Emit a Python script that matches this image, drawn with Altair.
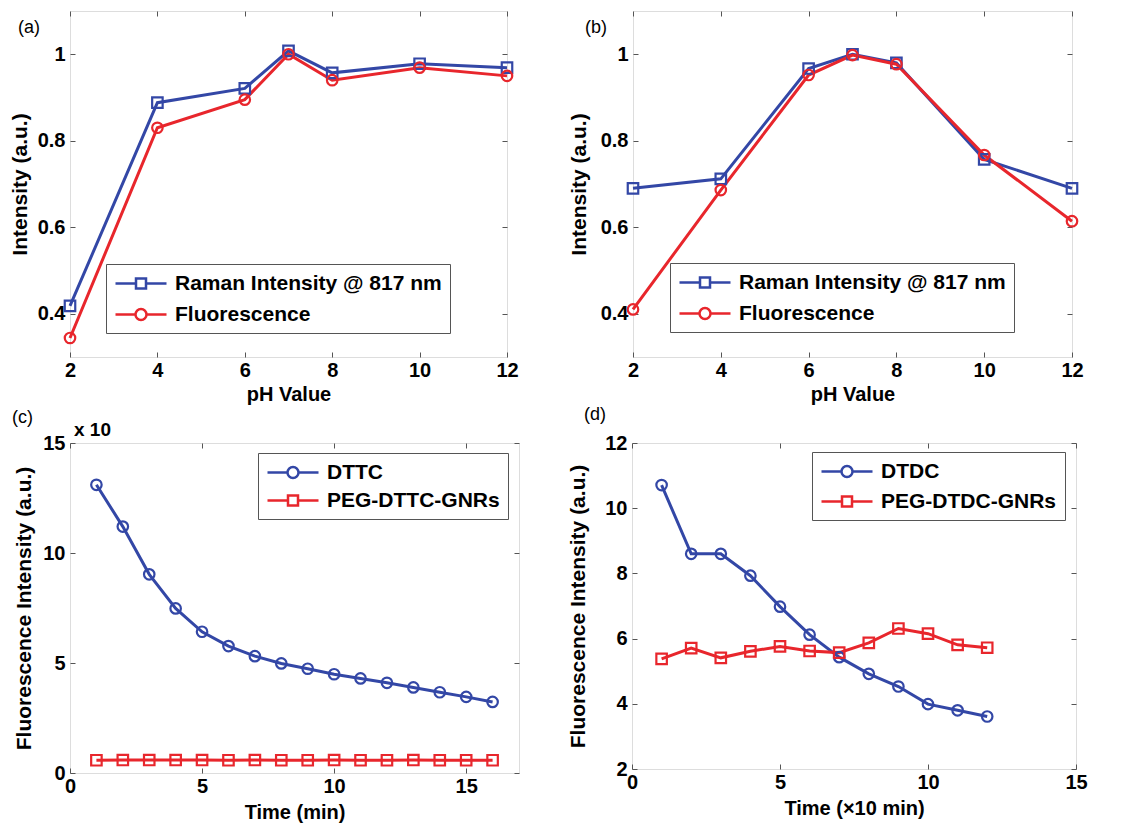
import altair as alt
import pandas as pd

BLUE = "#3347a6"
RED = "#e8262c"
FRAME = "#555555"
FONT = "Liberation Sans"

# ---------------- data ----------------
ph = [2, 4, 6, 7, 8, 10, 12]
a_raman = [0.418, 0.888, 0.921, 1.008, 0.957, 0.978, 0.969]
a_fluor = [0.344, 0.830, 0.895, 1.000, 0.940, 0.969, 0.950]
b_raman = [0.690, 0.712, 0.967, 1.000, 0.980, 0.757, 0.690]
b_fluor = [0.410, 0.686, 0.952, 0.998, 0.977, 0.767, 0.614]

c_time = [1, 2, 3, 4, 5, 6, 7, 8, 9, 10, 11, 12, 13, 14, 15, 16]
c_dttc = [13.10, 11.20, 9.03, 7.48, 6.42, 5.77, 5.31, 4.98, 4.74, 4.49,
          4.30, 4.10, 3.89, 3.67, 3.46, 3.23]
c_peg = [0.58, 0.59, 0.59, 0.59, 0.59, 0.58, 0.59, 0.58, 0.58, 0.59,
         0.58, 0.58, 0.59, 0.58, 0.58, 0.58]

d_time = [1, 2, 3, 4, 5, 6, 7, 8, 9, 10, 11, 12]
d_dtdc = [10.71, 8.60, 8.60, 7.93, 6.98, 6.12, 5.43, 4.92, 4.53, 3.99, 3.80, 3.61]
d_peg = [5.38, 5.71, 5.41, 5.61, 5.76, 5.62, 5.57, 5.87, 6.31, 6.15, 5.81, 5.72]

S_RAMAN = "Raman Intensity @ 817 nm"
S_FLUOR = "Fluorescence"

# legend symbols: a line sample with a marker in its middle
LEG_SQUARE = "M-1,0H1.05M2.05,0H4.1M1.05,-0.5H2.05V0.5H1.05Z"
LEG_CIRCLE = "M-1,0H1.0M2.1,0H4.1M1.0,0A0.55,0.55,0,1,1,2.1,0A0.55,0.55,0,1,1,1.0,0"


def frame(xs, ys, names):
    rows = []
    for name, vals in zip(names, ys):
        for x, v in zip(xs, vals):
            rows.append({"x": x, "y": v, "s": name})
    return pd.DataFrame(rows)


TICK_KW = dict(tickColor=FRAME, tickSize=5, offset=-5, domain=False, grid=False)


def lab_kw():
    kw = dict(labelFont=FONT, labelFontSize=20, labelFontWeight="bold",
              labelColor="black", titleFont=FONT, titleFontWeight="bold",
              titleColor="black", labelFlush=False, labelOverlap=False)
    kw.update(TICK_KW)
    return kw


def panel(df, names, colors, shapes, legshapes, xdom, ydom, xticks, yticks,
          xtitle, ytitle, w, h, lx, ly, rowpad, tag, tagx, tagy, yext,
          xtpad, extra=None):
    xs = alt.Scale(domain=xdom, nice=False, zero=False)
    ys = alt.Scale(domain=ydom, nice=False, zero=False)
    cs = alt.Scale(domain=names, range=colors)
    xax = alt.Axis(title=xtitle, values=xticks, format="~g", orient="bottom",
                   labelPadding=3, titleFontSize=20, titlePadding=xtpad,
                   minExtent=28, maxExtent=28, **lab_kw())
    yax = alt.Axis(title=ytitle, values=yticks, format="~g", orient="left",
                   labelPadding=5, titleFontSize=21, titlePadding=7,
                   minExtent=yext, maxExtent=yext, **lab_kw())
    xtop = alt.Axis(title=None, values=xticks, labels=False, orient="top",
                    minExtent=0, maxExtent=0, **TICK_KW)
    yright = alt.Axis(title=None, values=yticks, labels=False, orient="right",
                      minExtent=0, maxExtent=0, **TICK_KW)
    base = alt.Chart(df)
    lines = base.mark_line(strokeWidth=3, opacity=1).encode(
        x=alt.X("x:Q", scale=xs, axis=xax),
        y=alt.Y("y:Q", scale=ys, axis=yax),
        color=alt.Color("s:N", scale=cs, legend=None),
        detail="s:N",
    )
    points = base.mark_point(filled=False, size=110, strokeWidth=2.2, opacity=1).encode(
        x=alt.X("x:Q", scale=xs, axis=None),
        y=alt.Y("y:Q", scale=ys, axis=None),
        color=alt.Color("s:N", scale=cs, legend=None),
        shape=alt.Shape("s:N", scale=alt.Scale(domain=names, range=shapes), legend=None),
    )
    leg = alt.Legend(title=None, orient="none", legendX=lx, legendY=ly,
                     symbolSize=400, symbolStrokeWidth=2.5,
                     symbolFillColor="transparent", labelFont=FONT,
                     labelFontSize=21, labelFontWeight="bold", labelColor="black",
                     labelOffset=38, labelLimit=500, rowPadding=rowpad,
                     padding=8, strokeColor=FRAME, fillColor="white")
    legend_layer = base.transform_filter("false").mark_point(
        filled=False, opacity=1, strokeWidth=2.5).encode(
        x=alt.X("x:Q", scale=xs, axis=xtop),
        y=alt.Y("y:Q", scale=ys, axis=yright),
        color=alt.Color("s:N", scale=alt.Scale(domain=names, range=colors), legend=leg),
        shape=alt.Shape("s:N", scale=alt.Scale(domain=names, range=legshapes), legend=leg),
    )
    tagdf = pd.DataFrame({"t": [tag]})
    tag_layer = alt.Chart(tagdf).mark_text(
        font=FONT, fontSize=18, align="left", baseline="middle", color="black"
    ).encode(text="t:N", x=alt.value(tagx), y=alt.value(tagy))
    layers = [lines, points, legend_layer, tag_layer]
    if extra is not None:
        layers.append(extra)
    return alt.layer(*layers).resolve_scale(
        shape="independent", color="independent").resolve_axis(
        x="independent", y="independent").properties(width=w, height=h)


df_a = frame(ph, [a_raman, a_fluor], [S_RAMAN, S_FLUOR])
df_b = frame(ph, [b_raman, b_fluor], [S_RAMAN, S_FLUOR])
df_c = frame(c_time, [c_dttc, c_peg], ["DTTC", "PEG-DTTC-GNRs"])
df_d = frame(d_time, [d_dtdc, d_peg], ["DTDC", "PEG-DTDC-GNRs"])

yt_ab = [0.4, 0.6, 0.8, 1.0]

pa = panel(df_a, [S_RAMAN, S_FLUOR], [BLUE, RED], ["square", "circle"],
           [LEG_SQUARE, LEG_CIRCLE], [2, 12], [0.3, 1.1], [2, 4, 6, 8, 10, 12],
           yt_ab, "pH Value", "Intensity (a.u.)", 437, 346, 36, 253, 9,
           "(a)", -52, 17, 38, 4)
pb = panel(df_b, [S_RAMAN, S_FLUOR], [BLUE, RED], ["square", "circle"],
           [LEG_SQUARE, LEG_CIRCLE], [2, 12], [0.3, 1.1], [2, 4, 6, 8, 10, 12],
           yt_ab, "pH Value", "Intensity (a.u.)", 439, 346, 37, 252, 9,
           "(b)", -48, 17, 42, 4)

exp_df = pd.DataFrame({"t": ["x 10"]})
exp_layer = alt.Chart(exp_df).mark_text(
    font=FONT, fontSize=19, fontWeight="bold", align="left", baseline="bottom",
    color="black").encode(text="t:N", x=alt.value(4), y=alt.value(-3))

pc = panel(df_c, ["DTTC", "PEG-DTTC-GNRs"], [BLUE, RED], ["circle", "square"],
           [LEG_CIRCLE, LEG_SQUARE], [0, 17], [0, 15], [0, 5, 10, 15],
           [0, 5, 10, 15], "Time (min)", "Fluorescence Intensity (a.u.)",
           449, 330, 188, 10, 6, "(c)", -58, -25, 34, 6, extra=exp_layer)
pd_ = panel(df_d, ["DTDC", "PEG-DTDC-GNRs"], [BLUE, RED], ["circle", "square"],
            [LEG_CIRCLE, LEG_SQUARE], [0, 15], [2, 12], [0, 5, 10, 15],
            [2, 4, 6, 8, 10, 12], "Time  (\u00d710 min)",
            "Fluorescence Intensity (a.u.)", 444, 326, 180, 9, 8,
            "(d)", -48, -28, 42, 6)

row1 = alt.hconcat(pa, pb, spacing=48)
row2 = alt.hconcat(pc, pd_, spacing=46)
chart = alt.vconcat(row1, row2, spacing=0).properties(
    padding={"left": 0, "top": 2, "right": 0, "bottom": 0}
).configure_view(stroke=FRAME, strokeWidth=1.2).configure(background="white")

chart.save("out.html", embed_options={"renderer": "svg", "actions": False})
